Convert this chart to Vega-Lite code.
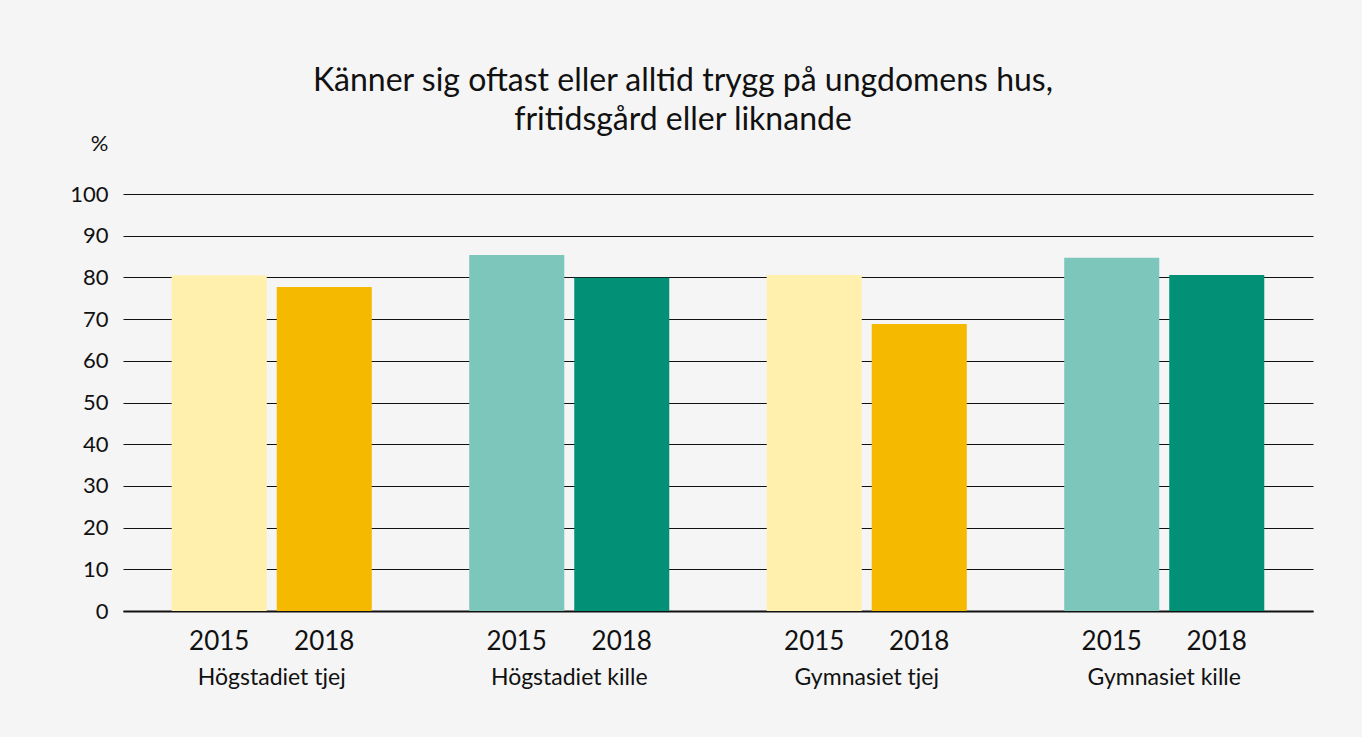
{
  "$schema": "https://vega.github.io/schema/vega-lite/v6.json",
  "width": 1190,
  "height": 417,
  "autosize": {"type": "none"},
  "padding": {"left": 123, "top": 194, "right": 49, "bottom": 126},
  "background": "#f5f5f5",
  "title": {
    "text": ["Känner sig oftast eller alltid trygg på ungdomens hus,", "fritidsgård eller liknande"],
    "anchor": "middle",
    "frame": "group",
    "dx": -35,
    "dy": 65,
    "offset": 60,
    "font": "Lato",
    "fontSize": 32,
    "fontWeight": "normal",
    "color": "#111111",
    "lineHeight": 39
  },
  "config": {
    "view": {"stroke": null},
    "font": "Lato"
  },
  "data": {
    "values": [
      {"grupp": "Högstadiet tjej", "år": "2015", "andel": 80.5, "serie": "tjej 2015"},
      {"grupp": "Högstadiet tjej", "år": "2018", "andel": 77.7, "serie": "tjej 2018"},
      {"grupp": "Högstadiet kille", "år": "2015", "andel": 85.4, "serie": "kille 2015"},
      {"grupp": "Högstadiet kille", "år": "2018", "andel": 79.9, "serie": "kille 2018"},
      {"grupp": "Gymnasiet tjej", "år": "2015", "andel": 80.6, "serie": "tjej 2015"},
      {"grupp": "Gymnasiet tjej", "år": "2018", "andel": 68.8, "serie": "tjej 2018"},
      {"grupp": "Gymnasiet kille", "år": "2015", "andel": 84.7, "serie": "kille 2015"},
      {"grupp": "Gymnasiet kille", "år": "2018", "andel": 80.6, "serie": "kille 2018"}
    ]
  },
  "encoding": {
    "x": {
      "field": "grupp",
      "type": "nominal",
      "sort": null,
      "scale": {"paddingInner": 0, "paddingOuter": 0},
      "axis": {
        "title": null,
        "labelAngle": 0,
        "ticks": false,
        "domain": true,
        "domainColor": "#111111",
        "domainWidth": 2,
        "labelPadding": 73,
        "labelBaseline": "alphabetic",
        "labelFontSize": 23,
        "labelFont": "Lato",
        "labelColor": "#111111"
      }
    },
    "xOffset": {
      "field": "år",
      "type": "nominal",
      "scale": {"paddingInner": 0.095, "paddingOuter": 0.464}
    }
  },
  "layer": [
    {
      "mark": {"type": "bar"},
      "encoding": {
        "y": {
          "field": "andel",
          "type": "quantitative",
          "scale": {"domain": [0, 100], "nice": false},
          "axis": {
            "values": [0, 10, 20, 30, 40, 50, 60, 70, 80, 90, 100],
            "grid": true,
            "gridColor": "#111111",
            "gridWidth": 1,
            "domain": false,
            "ticks": false,
            "labelPadding": 15,
            "labelFontSize": 22,
            "labelFont": "Lato",
            "labelColor": "#111111",
            "title": "%",
            "titleAngle": 0,
            "titleAlign": "right",
            "titleBaseline": "alphabetic",
            "titleX": -15,
            "titleY": -44,
            "titleFontSize": 22,
            "titleFontWeight": "normal",
            "titleFont": "Lato",
            "titleColor": "#111111"
          }
        },
        "color": {
          "field": "serie",
          "type": "nominal",
          "scale": {
            "domain": ["tjej 2015", "tjej 2018", "kille 2015", "kille 2018"],
            "range": ["#fff0ae", "#f5b900", "#7dc6bb", "#029176"]
          },
          "legend": null
        }
      }
    },
    {
      "mark": {"type": "text", "baseline": "alphabetic", "dy": 39, "fontSize": 26, "font": "Lato", "color": "#111111"},
      "encoding": {
        "y": {"datum": 0, "type": "quantitative"},
        "text": {"field": "år", "type": "nominal"}
      }
    }
  ]
}
